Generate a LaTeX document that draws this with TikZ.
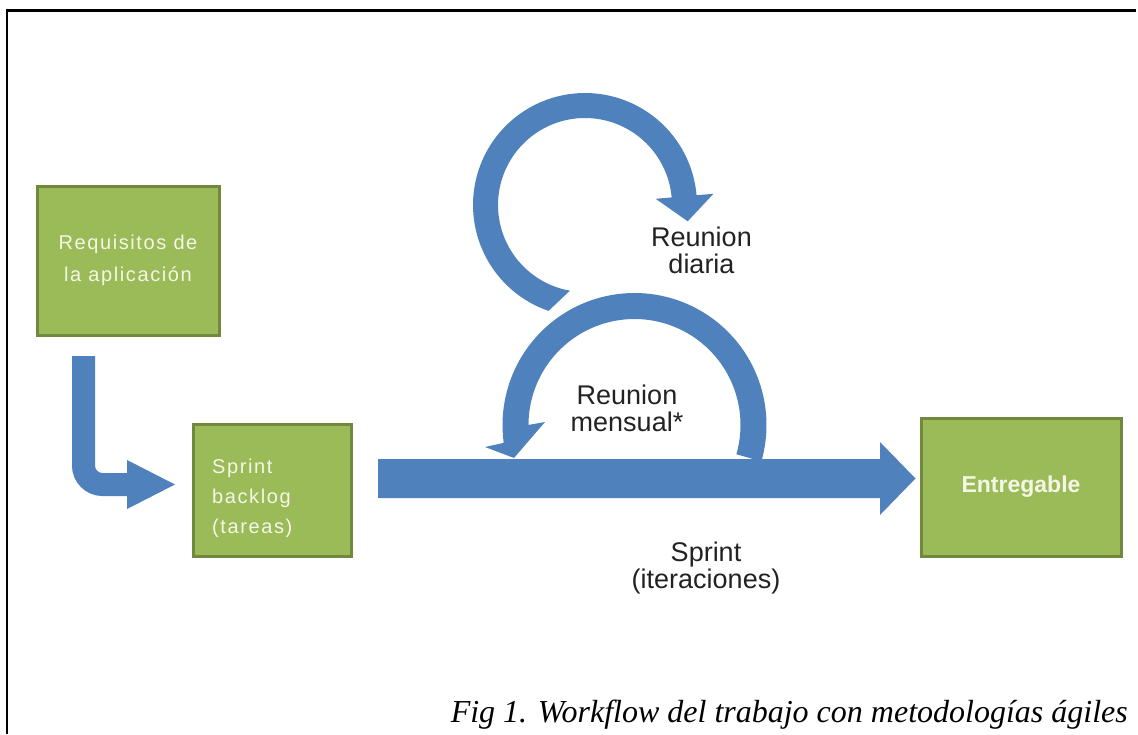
\documentclass[tikz,border=0pt]{standalone}
\usepackage{fontspec}
\setmainfont{Liberation Sans}
\newfontfamily\capfont{Liberation Serif}
\usetikzlibrary{calc}
\definecolor{boxgreen}{HTML}{9BBB59}
\definecolor{boxedge}{HTML}{71893F}
\definecolor{arrowblue}{HTML}{4F81BD}
\definecolor{boxtext}{HTML}{F4F7E6}
\definecolor{labeltext}{HTML}{222222}
\tikzset{
  greenbox/.style={draw=boxedge, fill=boxgreen, line width=3pt, inner sep=0pt,
    text=boxtext, font=\fontsize{20}{32}\selectfont\addfontfeature{LetterSpace=8}},
  boxlabel/.style={inner sep=0pt, text=boxtext,
    font=\fontsize{20}{30}\selectfont\addfontfeature{LetterSpace=8}},
  lbl/.style={inner sep=0pt, align=center, text=labeltext, font=\fontsize{27}{27}\selectfont},
  bluefill/.style={fill=arrowblue, draw=none},
  frameline/.style={draw=black, line width=3pt},
}
\begin{document}
\begin{tikzpicture}[x=1pt,y=-1pt]
\useasboundingbox (0,0) rectangle (1138,734);
% frame
\coordinate (ftl) at (7,10);
\coordinate (ftr) at (1136,10);
\coordinate (fbl) at (7,734);
\draw[frameline] (ftl) -- (ftr);
\draw[frameline, line width=2.5pt] ($(ftl)+(0,-1.5)$) -- (fbl);

% boxes
\node[greenbox, minimum width=182pt, minimum height=149pt, align=center] (req) at (128,260.5) {Requisitos de\\la aplicación};
\node[greenbox, minimum width=158pt, minimum height=132pt] (sb) at (272,490) {};
\node[boxlabel, anchor=west, align=left] (sbtext) at (212,498) {Sprint\\backlog\\(tareas)};
\node[greenbox, minimum width=200pt, minimum height=138pt, font=\fontsize{23}{28}\selectfont\bfseries] (ent) at (1021,487) {Entregable};

% L-shaped arrow from requisitos to sprint backlog
\coordinate (lstart) at (83.5,356);
\coordinate (lend) at (128,484.5);
\draw[arrowblue, line width=23pt, rounded corners=19pt] (lstart) |- (lend);
\fill[bluefill] (127,460) -- (175,484.5) -- (127,509) -- cycle;

% top circular arrow (Reunion diaria), centre (585,205)
\fill[bluefill] plot[domain=251:5, samples=90] ({585+112*cos(\x)},{205-112*sin(\x)})
  -- ({585+129*cos(5)},{205-129*sin(5)})
  -- ({585+104*cos(-9)},{205-104*sin(-9)})
  -- ({585+71*cos(5)},{205-71*sin(5)})
  -- plot[domain=5:260, samples=90] ({585+87*cos(\x)},{205-87*sin(\x)}) -- cycle;

% bottom circular arrow (Reunion mensual), centre (634.5,425)
\fill[bluefill] plot[domain=-16:188, samples=100] ({634.5+132*cos(\x)},{425-132*sin(\x)})
  -- plot[domain=180:-16, samples=100] ({634.5+106*cos(\x)},{425-106*sin(\x)}) -- cycle;
\fill[bluefill] (485,447) -- (514,458) -- (545,422) -- (528,425) -- (503,443) -- cycle;

% main sprint arrow
\fill[bluefill] (378,459) -- (880,459) -- (880,442) -- ($(ent.west)+(-4,-8.5)$) -- (880,515) -- (880,498) -- (378,498) -- cycle;

% labels
\node[lbl] (rd) at (701.5,250) {Reunion\\diaria};
\node[lbl] (rm) at (627,408) {Reunion\\mensual*};
\node[lbl] (sp) at (706,568) {Sprint\\(iteraciones)};

% caption
\node[anchor=base east, inner sep=0pt, font=\capfont\itshape\fontsize{32}{38}\selectfont] (cap) at (1128,722) {Fig 1. Workflow del trabajo con metodologías ágiles};
\end{tikzpicture}
\end{document}
